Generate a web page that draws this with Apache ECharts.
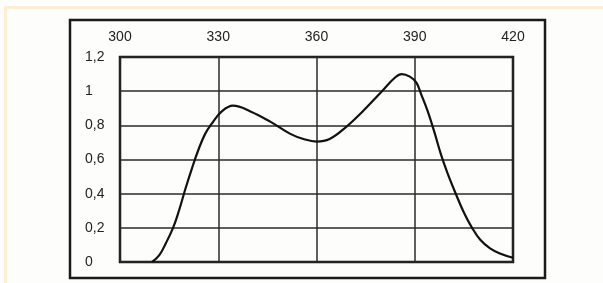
<!DOCTYPE html>
<html>
<head>
<meta charset="utf-8">
<script src="https://cdn.jsdelivr.net/npm/echarts@6/dist/echarts.min.js"></script>
<style>
  html, body { margin: 0; padding: 0; background: #ffffff; }
  #grafico { width: 603px; height: 283px; }
</style>
</head>
<body>
<div id="grafico"></div>
<script>
// datos
const longitudes = [309.8, 312, 314, 316.2, 318, 320, 322, 324, 326, 328, 331, 334.5, 340, 346, 352, 356, 360, 364, 369, 374, 380, 384, 386, 388.5, 390.5, 392, 394, 396, 398, 400, 402.3, 405, 407.5, 410, 413, 416, 420];
const valores = [0, 0.04, 0.11, 0.2, 0.3, 0.43, 0.55, 0.66, 0.75, 0.81, 0.88, 0.915, 0.88, 0.82, 0.75, 0.72, 0.705, 0.72, 0.79, 0.88, 1.0, 1.08, 1.1, 1.085, 1.05, 0.98, 0.88, 0.76, 0.63, 0.52, 0.41, 0.29, 0.2, 0.13, 0.08, 0.05, 0.025];
const ticksX = [300, 330, 360, 390, 420];
const ticksY = [0, 0.2, 0.4, 0.6, 0.8, 1, 1.2];

const grafico = echarts.init(document.getElementById('grafico'));

const option = {
    backgroundColor: '#fdfdfb',
    animation: false,
    textStyle: { fontFamily: 'Liberation Sans' },
    graphic: [
        // franja crema superior e izquierda
        { type: 'rect', shape: { x: 4, y: 6, width: 599, height: 3 }, style: { fill: '#fcefd6' } },
        { type: 'rect', shape: { x: 4, y: 6, width: 3, height: 277 }, style: { fill: '#fcefd6' } },
        { type: 'rect', shape: { x: 0, y: 0, width: 603, height: 6 }, style: { fill: '#ffffff' } },
        // marco exterior
        { type: 'rect', shape: { x: 70, y: 20, width: 475, height: 258 }, style: { fill: 'none', stroke: '#1a1a1a', lineWidth: 2.5 } }
    ],
    grid: { left: 120, top: 57, width: 393, height: 205, show: true, borderColor: '#111', borderWidth: 2.5, backgroundColor: 'transparent' },
    xAxis: {
        type: 'value',
        position: 'top',
        min: ticksX[0],
        max: ticksX[ticksX.length - 1],
        interval: 30,
        axisLine: { show: false },
        axisTick: { show: false },
        axisLabel: { color: '#222', fontSize: 14, margin: 13 },
        splitLine: { show: true, lineStyle: { color: '#2a2a2a', width: 1.5 } }
    },
    yAxis: {
        type: 'value',
        min: ticksY[0],
        max: ticksY[ticksY.length - 1],
        interval: 0.2,
        axisLine: { show: false },
        axisTick: { show: false },
        axisLabel: {
            color: '#222', fontSize: 14, margin: 35, align: 'left',
            formatter: v => String(Math.round(v * 10) / 10).replace('.', ',')
        },
        splitLine: { show: true, lineStyle: { color: '#2a2a2a', width: 1.5 } }
    },
    series: [{
        type: 'line',
        data: longitudes.map((x, i) => [x, valores[i]]),
        smooth: 0.4,
        showSymbol: false,
        lineStyle: { color: '#111', width: 2.2 }
    }]
};

grafico.setOption(option);
</script>
</body>
</html>
